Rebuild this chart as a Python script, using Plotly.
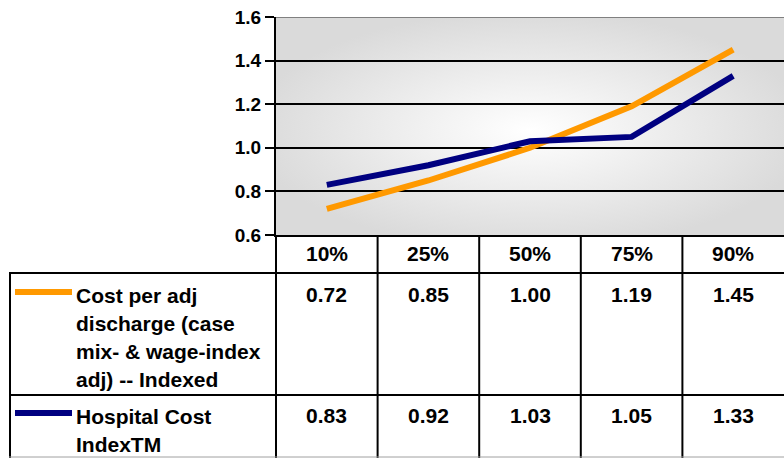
import base64
import plotly.graph_objects as go

# ---- data ----
categories = ["10%", "25%", "50%", "75%", "90%"]
cost_per_adj = [0.72, 0.85, 1.00, 1.19, 1.45]
hospital_cost_index = [0.83, 0.92, 1.03, 1.05, 1.33]
series_labels = [
    ["Cost per adj", "discharge (case", "mix- & wage-index", "adj) -- Indexed"],
    ["Hospital Cost", "IndexTM"],
]
series_values = [cost_per_adj, hospital_cost_index]
series_colors = ["#FF9900", "#000080"]
y_ticks = [0.6, 0.8, 1.0, 1.2, 1.4, 1.6]

W, H = 784, 458
FONT = "Liberation Sans, Arial, sans-serif"
TBL = 21


def px(x):
    return x / W


def py(y):
    return 1 - y / H


plot_left, plot_top, plot_bottom = 276, 17, 235

fig = go.Figure()
for name_lines, vals, col in zip(series_labels, series_values, series_colors):
    fig.add_trace(go.Scatter(
        x=categories, y=vals, mode="lines", name=" ".join(name_lines),
        line=dict(color=col, width=6), showlegend=False, hoverinfo="skip"))

# gradient background for plot area
svg = (
    '<svg xmlns="http://www.w3.org/2000/svg" width="500" height="220" preserveAspectRatio="none">'
    '<defs><radialGradient id="g" cx="50%" cy="52%" r="55%">'
    '<stop offset="0%" stop-color="#ffffff"/>'
    '<stop offset="100%" stop-color="#dadada"/>'
    '</radialGradient></defs>'
    '<rect width="500" height="220" fill="url(#g)"/></svg>'
)
src = "data:image/svg+xml;base64," + base64.b64encode(svg.encode()).decode()

annotations = []
# header row (percentiles)
for c in categories:
    annotations.append(dict(x=c, y=py(254), xref="x", yref="paper", text=c,
                            showarrow=False, xanchor="center", yanchor="middle",
                            font=dict(family=FONT, size=TBL, color="black", weight="bold")))
# values rows
row_val_y = [294, 415]
for vals, yv in zip(series_values, row_val_y):
    for c, v in zip(categories, vals):
        annotations.append(dict(x=c, y=py(yv), xref="x", yref="paper", text=f"{v:.2f}",
                                showarrow=False, xanchor="center", yanchor="middle",
                                font=dict(family=FONT, size=TBL, color="black", weight="bold")))
# row labels
row_label_y0 = [295, 416]
for lines, y0 in zip(series_labels, row_label_y0):
    for i, t in enumerate(lines):
        annotations.append(dict(x=px(74), y=py(y0 + 28.3 * i), xref="paper", yref="paper",
                                text=t, showarrow=False, xanchor="left", yanchor="middle",
                                font=dict(family=FONT, size=TBL, color="black", weight="bold")))

shapes = []
# top border of plot area (gray)
shapes.append(dict(type="line", xref="paper", yref="y", x0=px(plot_left), x1=1, y0=1.6, y1=1.6,
                   line=dict(color="#808080", width=2), layer="above"))
# legend samples
for y0, col in zip([292, 413], series_colors):
    shapes.append(dict(type="line", xref="paper", yref="paper", x0=px(15), x1=px(72),
                       y0=py(y0), y1=py(y0), line=dict(color=col, width=6)))
# table lines
line_k = dict(color="black", width=2)
shapes.append(dict(type="line", xref="paper", yref="paper", x0=px(plot_left), x1=px(plot_left),
                   y0=py(plot_bottom), y1=0, line=line_k))
shapes.append(dict(type="line", xref="paper", yref="paper", x0=px(10), x1=px(10),
                   y0=py(273), y1=0, line=line_k))
for xb in [0.5, 1.5, 2.5, 3.5]:
    shapes.append(dict(type="line", xref="x", yref="paper", x0=xb, x1=xb,
                       y0=py(plot_bottom), y1=0, line=line_k))
for yh in [273, 395]:
    shapes.append(dict(type="line", xref="paper", yref="paper", x0=px(9), x1=1,
                       y0=py(yh), y1=py(yh), line=line_k))
shapes.append(dict(type="line", xref="paper", yref="paper", x0=px(9), x1=1,
                   y0=py(457), y1=py(457), line=dict(color="#a0a0a0", width=1)))

fig.update_layout(
    template="none",
    width=W, height=H,
    autosize=False,
    margin=dict(l=0, r=0, t=0, b=0, pad=0, autoexpand=False),
    paper_bgcolor="white",
    plot_bgcolor="rgba(0,0,0,0)",
    xaxis=dict(domain=[px(plot_left), 1], type="category", range=[-0.5, 4.5],
               showticklabels=False, showgrid=False, ticks="", automargin=False,
               showline=True, linecolor="black", linewidth=2, zeroline=False, fixedrange=True),
    yaxis=dict(domain=[py(plot_bottom), py(plot_top)], range=[0.6, 1.6],
               tickvals=y_ticks, tickformat=".1f", automargin=False,
               ticks="outside", ticklen=9, tickwidth=2, tickcolor="black",
               showline=True, linecolor="black", linewidth=2,
               showgrid=True, gridcolor="black", gridwidth=2, zeroline=False,
               tickfont=dict(family=FONT, size=19, color="black", weight="bold")),
    images=[dict(source=src, xref="paper", yref="paper", x=px(plot_left), y=py(plot_top),
                 sizex=1 - px(plot_left), sizey=py(plot_top) - py(plot_bottom),
                 sizing="stretch", layer="below", xanchor="left", yanchor="top")],
    annotations=annotations,
    shapes=shapes,
)

fig.write_html("out.html", config={"displayModeBar": False},
               post_script="document.body.style.margin='0';document.body.style.overflow='hidden';")
